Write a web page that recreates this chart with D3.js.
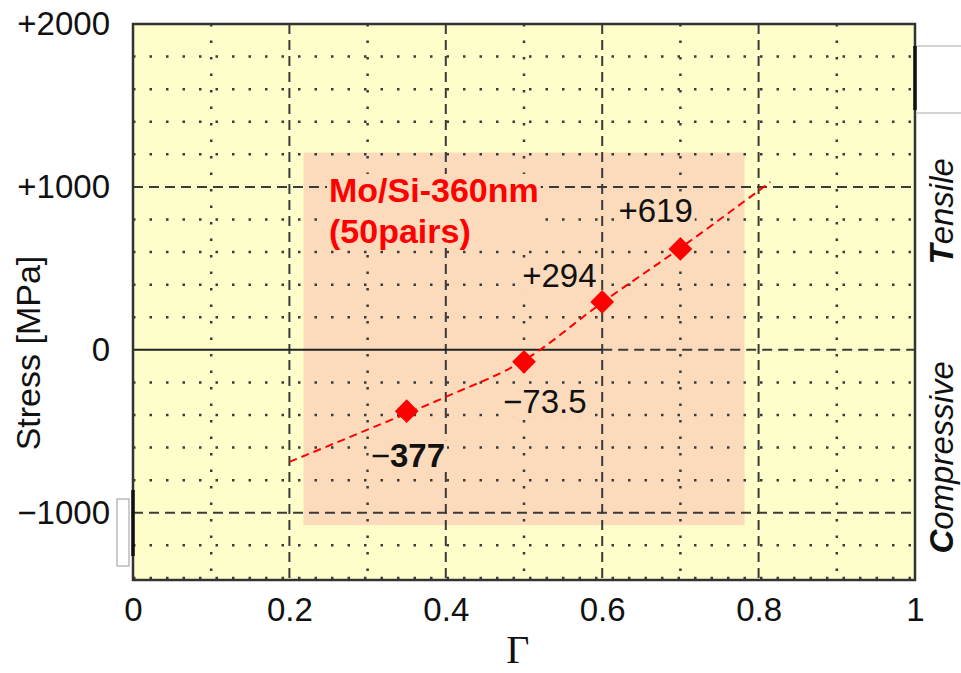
<!DOCTYPE html>
<html>
<head>
<meta charset="utf-8">
<script src="https://cdn.jsdelivr.net/npm/d3@7"></script>
<style>
  body { margin: 0; background: #fff; }
  text { font-family: "Liberation Sans", Arial, sans-serif; }
</style>
</head>
<body>
<div id="chart"></div>
<script>
// measured points
var gamma = [0.35, 0.5, 0.6, 0.7];
var stress = [-377, -73.5, 294, 619];
var pointSigns = ["\u2212", "\u2212", "+", "+"];
var pointNums = ["377", "73.5", "294", "619"];

// dashed fit curve
var fitGamma = [0.2, 0.3, 0.4, 0.5, 0.6, 0.7, 0.815];
var fitStress = [-688, -490, -289, -65, 290, 625, 1030];

var xTicks = [0, 0.2, 0.4, 0.6, 0.8, 1];
var yTicks = [2000, 1000, 0, -1000];
var yTickLabels = ["+2000", "+1000", "0", "\u22121000"];

// highlighted region (gamma range, stress range)
var boxGamma = [0.218, 0.782];
var boxStress = [-1076, 1211];

var width = 961, height = 673;
var margin = {left: 133, right: 46, top: 24, bottom: 93};

var yellow = "#fefecb", pink = "#fcdbbd", red = "#ff0000", gridCol = "#3a3a3a";
var fs = 33;

var svg = d3.select("#chart").append("svg")
    .attr("width", width).attr("height", height);

var x = d3.scaleLinear().domain([0, 1]).range([margin.left, width - margin.right]);
var y = d3.scaleLinear().domain([-1413, 2000]).range([height - margin.bottom, margin.top]);

// background
svg.append("rect")
    .attr("x", x(0)).attr("y", y(2000))
    .attr("width", x(1) - x(0)).attr("height", y(-1413) - y(2000))
    .attr("fill", yellow);

svg.append("rect")
    .attr("x", x(boxGamma[0])).attr("y", y(boxStress[1]))
    .attr("width", x(boxGamma[1]) - x(boxGamma[0]))
    .attr("height", y(boxStress[0]) - y(boxStress[1]))
    .attr("fill", pink);

// grid
var grid = svg.append("g");
var minorX = d3.range(1, 10).map(function(i){ return i / 10; });
minorX.forEach(function(v, i) {
    var major = (i % 2 == 1);
    grid.append("line")
        .attr("x1", x(v)).attr("x2", x(v))
        .attr("y1", y(2000)).attr("y2", y(-1413))
        .attr("stroke", gridCol)
        .attr("stroke-width", major ? 2 : 2.5)
        .attr("stroke-dasharray", major ? "10,6" : "2.5,14");
});

var minorY = d3.range(-1400, 2000, 200);
minorY.forEach(function(v) {
    if (v == 0) return;
    var major = (v % 1000 == 0);
    grid.append("line")
        .attr("x1", x(0)).attr("x2", x(1))
        .attr("y1", y(v)).attr("y2", y(v))
        .attr("stroke", gridCol)
        .attr("stroke-width", major ? 2 : 2.5)
        .attr("stroke-dasharray", major ? "10,6" : "2.5,14");
});

// zero line: solid up to 0.6, dashed after
grid.append("line")
    .attr("x1", x(0)).attr("x2", x(0.6))
    .attr("y1", y(0)).attr("y2", y(0))
    .attr("stroke", "#222").attr("stroke-width", 2);
grid.append("line")
    .attr("x1", x(0.6)).attr("x2", x(1))
    .attr("y1", y(0)).attr("y2", y(0))
    .attr("stroke", gridCol).attr("stroke-width", 2)
    .attr("stroke-dasharray", "10,6");

// labels with pink backing boxes
function backBox(g, t) {
    var b = t.node().getBBox();
    g.insert("rect", function(){ return t.node(); })
        .attr("x", b.x - 2).attr("y", b.y + 3)
        .attr("width", b.width + 4).attr("height", b.height - 6)
        .attr("fill", pink);
}

var ann = svg.append("g");
var title = ann.append("text")
    .attr("x", 329).attr("y", 202)
    .attr("font-size", 34).attr("font-weight", "bold").attr("fill", red);
title.append("tspan").attr("x", 329).text("Mo/Si-360nm");
title.append("tspan").attr("x", 329).attr("dy", 41).text("(50pairs)");
backBox(ann, title);

var offsets = [[-36, 56], [-21, 51], [-80, -15], [-62, -27]];
gamma.forEach(function(g, i) {
    var t = ann.append("text")
        .attr("x", x(g) + offsets[i][0]).attr("y", y(stress[i]) + offsets[i][1])
        .attr("font-size", fs).attr("fill", "#111");
    t.append("tspan").text(pointSigns[i]);
    t.append("tspan").attr("font-weight", i == 0 ? "bold" : "normal").text(pointNums[i]);
    backBox(ann, t);
});

// fit line
var fit = fitGamma.map(function(g, i){ return [g, fitStress[i]]; });
svg.append("path")
    .datum(fit)
    .attr("fill", "none")
    .attr("stroke", red)
    .attr("stroke-width", 2)
    .attr("stroke-dasharray", "8,5")
    .attr("d", d3.line()
        .x(function(d){ return x(d[0]); })
        .y(function(d){ return y(d[1]); })
        .curve(d3.curveMonotoneX));

// points
svg.selectAll(".pt")
    .data(gamma)
    .join("path")
    .attr("class", "pt")
    .attr("transform", function(d, i){ return "translate(" + x(d) + "," + y(stress[i]) + ")"; })
    .attr("d", d3.symbol().type(d3.symbolDiamond2).size(360))
    .attr("fill", red);

// frame
svg.append("rect")
    .attr("x", x(0)).attr("y", y(2000))
    .attr("width", x(1) - x(0)).attr("height", y(-1413) - y(2000))
    .attr("fill", "none").attr("stroke", "#333").attr("stroke-width", 2.5);

// axes
var xAxis = svg.append("g")
    .attr("transform", "translate(0," + (height - margin.bottom) + ")")
    .call(d3.axisBottom(x).tickValues(xTicks).tickSize(0).tickPadding(18)
        .tickFormat(function(d){ return (d == 0 || d == 1) ? String(d) : d3.format(".1f")(d); }));
xAxis.select(".domain").remove();
xAxis.selectAll("text").attr("font-size", fs).attr("fill", "#111")
    .style("font-family", "'Liberation Sans', Arial, sans-serif");

var yAxis = svg.append("g")
    .attr("transform", "translate(" + margin.left + ",0)")
    .call(d3.axisLeft(y).tickValues(yTicks).tickSize(0).tickPadding(23)
        .tickFormat(function(d, i){ return yTickLabels[i]; }));
yAxis.select(".domain").remove();
yAxis.selectAll("text").attr("font-size", fs).attr("fill", "#111")
    .style("font-family", "'Liberation Sans', Arial, sans-serif");

// axis titles
svg.append("text")
    .attr("transform", "translate(40," + y(-20) + ") rotate(-90)")
    .attr("text-anchor", "middle")
    .attr("font-size", 34).attr("fill", "#111")
    .text("Stress [MPa]");

svg.append("text")
    .attr("x", x(0.492)).attr("y", 663)
    .attr("text-anchor", "middle")
    .attr("font-size", 40).attr("fill", "#111")
    .style("font-family", "'Liberation Serif', 'Times New Roman', serif")
    .text("\u0393");

function sideLabel(first, rest, cy) {
    var t = svg.append("text")
        .attr("transform", "translate(953," + cy + ") rotate(-90)")
        .attr("text-anchor", "middle")
        .attr("font-size", 33).attr("font-style", "italic").attr("fill", "#111");
    t.append("tspan").attr("font-weight", "bold").text(first);
    t.append("tspan").text(rest);
}
sideLabel("T", "ensile", y(850));
sideLabel("C", "ompressive", y(-660));

// stray marks at the picture edges
svg.append("rect").attr("x", 117).attr("y", 499).attr("width", 12).attr("height", 67)
    .attr("fill", "#fff").attr("stroke", "#aaa").attr("stroke-width", 1.2);
svg.append("line").attr("x1", x(0)).attr("x2", x(0)).attr("y1", 490).attr("y2", 556)
    .attr("stroke", "#111").attr("stroke-width", 3.5);
svg.append("line").attr("x1", 917).attr("x2", 961).attr("y1", 46).attr("y2", 46)
    .attr("stroke", "#aaa").attr("stroke-width", 1.2);
svg.append("line").attr("x1", 917).attr("x2", 961).attr("y1", 113).attr("y2", 113)
    .attr("stroke", "#aaa").attr("stroke-width", 1.2);
svg.append("line").attr("x1", x(1)).attr("x2", x(1)).attr("y1", 46).attr("y2", 110)
    .attr("stroke", "#111").attr("stroke-width", 3.5);
</script>
</body>
</html>
